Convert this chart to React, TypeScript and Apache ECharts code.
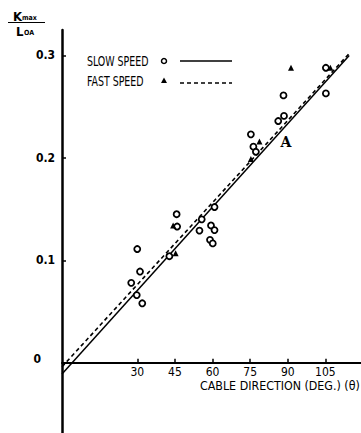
import React, { useEffect, useRef } from 'react';
import * as echarts from 'echarts';

const slowSpeed: [number, number][] = [
  [27.6, 0.078], [29.8, 0.066], [30.0, 0.111], [31.1, 0.089], [32.0, 0.058],
  [42.8, 0.104], [45.7, 0.145], [45.9, 0.133], [54.8, 0.129], [55.7, 0.140],
  [59.0, 0.120], [59.4, 0.134], [60.1, 0.1165], [60.8, 0.1295], [60.8, 0.152],
  [75.3, 0.223], [76.3, 0.211], [77.3, 0.206], [86.2, 0.236], [88.5, 0.241],
  [88.3, 0.261], [105.2, 0.288], [105.2, 0.263],
];
const fastSpeed: [number, number][] = [
  [44.3, 0.134], [45.3, 0.107], [75.3, 0.199], [78.7, 0.216], [91.3, 0.288], [107.0, 0.288],
];
const slowFit: [number, number][] = [[0, -0.011], [114.5, 0.300]];
const fastFit: [number, number][] = [[0, -0.004], [114.5, 0.302]];
const xTicks = [30, 45, 60, 75, 90, 105];
const yTicks = [0.1, 0.2, 0.3];
const yLabels = [0, 0.1, 0.2, 0.3];

const FONT = "'DejaVu Sans Condensed', 'Liberation Sans Narrow', sans-serif";

export default function App() {
  const ref = useRef<HTMLDivElement>(null);
  useEffect(() => {
    if (!ref.current) return;
    const chart = echarts.init(ref.current, undefined, { renderer: 'svg' });
    chart.setOption({
      animation: false,
      backgroundColor: '#fff',
      grid: [
        { left: 62, top: 30, width: 298.5, height: 332.7, outerBoundsMode: 'none', containLabel: false },
        { left: 62, top: 30, width: 298.5, height: 403, outerBoundsMode: 'none', containLabel: false },
      ],
      xAxis: [
        {
          type: 'value', gridIndex: 0, min: 0, max: 119,
          axisLine: { onZero: false, lineStyle: { color: '#000', width: 2 } },
          axisTick: { inside: true, length: 4, customValues: xTicks, lineStyle: { color: '#000', width: 1.5 } },
          axisLabel: { customValues: xTicks, margin: 3, color: '#000', fontFamily: FONT, fontSize: 12 },
          splitLine: { show: false },
        },
        { type: 'value', gridIndex: 1, min: 0, max: 119, show: false },
      ],
      yAxis: [
        {
          type: 'value', gridIndex: 0, min: 0, max: 0.3249,
          axisLine: { show: false, onZero: false },
          axisTick: { show: true, inside: true, length: 4, customValues: yTicks, lineStyle: { color: '#000', width: 1.5 } },
          axisLabel: {
            customValues: yLabels, margin: 7, color: '#000', fontFamily: FONT, fontSize: 12, fontWeight: 'bold',
            formatter: (v: number) => (Math.abs(v) < 1e-9 ? '{z|0}' : v.toFixed(1)),
            rich: { z: { padding: [0, 14, 8, 0], fontFamily: FONT, fontSize: 12, fontWeight: 'bold', color: '#000' } },
          },
          splitLine: { show: false },
        },
        {
          type: 'value', gridIndex: 1, min: -0.0687, max: 0.3249,
          axisLine: { show: true, onZero: false, lineStyle: { color: '#000', width: 2.5 } },
          axisTick: { show: false }, axisLabel: { show: false }, splitLine: { show: false },
        },
      ],
      series: [
        { type: 'line', xAxisIndex: 0, yAxisIndex: 0, clip: false, data: slowFit, symbol: 'none', lineStyle: { color: '#000', width: 1.5 }, z: 2 },
        { type: 'line', xAxisIndex: 0, yAxisIndex: 0, clip: false, data: fastFit, symbol: 'none', lineStyle: { color: '#000', width: 1.6, type: [4, 3] }, z: 2 },
        {
          type: 'scatter', xAxisIndex: 0, yAxisIndex: 0, data: slowSpeed, symbol: 'circle', symbolSize: 6,
          itemStyle: { color: '#fff', borderColor: '#000', borderWidth: 1.8, opacity: 1 }, z: 3,
        },
        {
          type: 'scatter', xAxisIndex: 0, yAxisIndex: 0, data: fastSpeed, symbol: 'triangle', symbolSize: 6,
          itemStyle: { color: '#000', opacity: 1 }, z: 3,
        },
      ],
      graphic: [
        { type: 'text', x: 13, y: 16, style: { text: 'K', font: `bold 13px ${FONT}`, fill: '#000', textVerticalAlign: 'middle' } },
        { type: 'text', x: 22, y: 18, style: { text: 'max', font: `bold 7px ${FONT}`, fill: '#000', textVerticalAlign: 'middle' } },
        { type: 'line', shape: { x1: 8, y1: 22.5, x2: 45, y2: 22.5 }, style: { stroke: '#000', lineWidth: 1.2 } },
        { type: 'text', x: 16, y: 31, style: { text: 'L', font: `bold 13px ${FONT}`, fill: '#000', textVerticalAlign: 'middle' } },
        { type: 'text', x: 24, y: 33, style: { text: 'OA', font: `bold 7px ${FONT}`, fill: '#000', textVerticalAlign: 'middle' } },

        { type: 'text', x: 87, y: 61, scaleX: 0.75, style: { text: 'SLOW SPEED', font: `14px ${FONT}`, fill: '#000', textVerticalAlign: 'middle' } },
        { type: 'circle', shape: { cx: 164, cy: 61, r: 2.5 }, style: { fill: '#fff', stroke: '#000', lineWidth: 1.5 } },
        { type: 'line', shape: { x1: 180, y1: 61, x2: 232, y2: 61 }, style: { stroke: '#000', lineWidth: 1.5 } },
        { type: 'text', x: 87, y: 81, scaleX: 0.75, style: { text: 'FAST SPEED', font: `14px ${FONT}`, fill: '#000', textVerticalAlign: 'middle' } },
        { type: 'polygon', shape: { points: [[161, 83], [167, 83], [164, 77.5]] }, style: { fill: '#000' } },
        { type: 'line', shape: { x1: 180, y1: 83, x2: 232, y2: 83 }, style: { stroke: '#000', lineWidth: 1.5, lineDash: [4, 3] } },

        { type: 'text', x: 286, y: 142, style: { text: 'A', font: `bold 14px 'DejaVu Serif', serif`, fill: '#000', textAlign: 'center', textVerticalAlign: 'middle' } },
        { type: 'text', x: 200, y: 385, scaleX: 0.95, style: { text: 'CABLE DIRECTION (DEG.) (θ)', font: `13px ${FONT}`, fill: '#000', textVerticalAlign: 'middle' } },
      ],
    });
    return () => chart.dispose();
  }, []);
  return <div ref={ref} style={{ position: 'fixed', left: 0, top: 0, width: 361, height: 433 }} />;
}
